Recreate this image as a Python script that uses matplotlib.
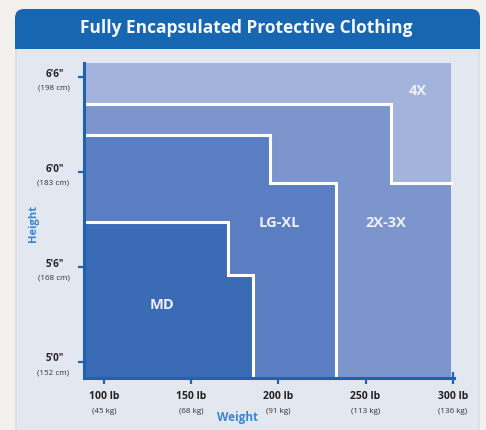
import matplotlib
matplotlib.use("Agg")
import matplotlib.pyplot as plt
from matplotlib.patches import FancyBboxPatch, Rectangle

# ---------------- data ----------------
sizes = ["MD", "LG-XL", "2X-3X", "4X"]
height_upper = [68.84, 74.32, 76.28, 78.87]   # max height (in) for lighter weights
weight_break = [171.1, 195.3, 264.4, 299.0]   # weight (lb) where height limit steps down
height_lower = [65.51, 71.29, 71.29, 78.87]   # max height (in) for heavier weights
weight_max = [185.5, 233.0, 299.0, 299.0]     # max weight (lb)

height_ticks = [60, 66, 72, 78]
height_labels = ["5'0\"", "5'6\"", "6'0\"", "6'6\""]
height_cm = ["(152 cm)", "(168 cm)", "(183 cm)", "(198 cm)"]

weight_ticks = [100, 150, 200, 250, 300]
weight_labels = ["100 lb", "150 lb", "200 lb", "250 lb", "300 lb"]
weight_kg = ["(45 kg)", "(68 kg)", "(91 kg)", "(113 kg)", "(136 kg)"]

title = "Fully Encapsulated Protective Clothing"

# ---------------- style ----------------
W, H = 486, 430
colors = ["#3b6bb4", "#5a7ec1", "#7d95cd", "#a3b3dc"]
label_xy = [(133, 63.6), (200.4, 68.8), (261.5, 68.8), (279.8, 77.16)]
axis_blue = "#1f63b0"
label_blue = "#3b86d0"
FONT = "Open Sans"

fig = plt.figure(figsize=(W / 100, H / 100), dpi=100)
fig.patch.set_facecolor("#f3f1ed")

# background panel in pixel coordinates
bg = fig.add_axes([0, 0, 1, 1], zorder=0)
bg.set_xlim(0, W)
bg.set_ylim(H, 0)
bg.axis("off")
bg.add_patch(FancyBboxPatch((16, 10), 463, 440, boxstyle="round,pad=0,rounding_size=9",
                            facecolor="#e3e7f0", edgecolor="#d6d9e0", lw=1.0))
bg.add_patch(FancyBboxPatch((15, 9), 465, 40, boxstyle="round,pad=0,rounding_size=9",
                            facecolor="#1766b2", edgecolor="none"))
bg.add_patch(Rectangle((15, 30), 465, 19, facecolor="#1766b2", edgecolor="none"))
bg.text(246, 28, title, color="#f4f7fb", fontsize=12.5, fontweight="bold",
        family=FONT, ha="center", va="center")

# main chart
xmin, xmax = 88.4, 300.5
ymin, ymax = 58.97, 78.9
left_px, right_px, top_px, bottom_px = 84, 453.5, 63, 378
ax = fig.add_axes([left_px / W, 1 - bottom_px / H, (right_px - left_px) / W,
                   (bottom_px - top_px) / H], zorder=1)
ax.set_facecolor("none")
ax.set_xlim(xmin, xmax)
ax.set_ylim(ymin, ymax)

outer_w = weight_max[-1]
for i in range(len(sizes) - 1, -1, -1):
    xs = [xmin, xmin, weight_break[i], weight_break[i], weight_max[i], weight_max[i]]
    ys = [ymin, height_upper[i], height_upper[i], height_lower[i], height_lower[i], ymin]
    ax.fill(xs, ys, color=colors[i], lw=0, zorder=2 + (3 - i))
    if sizes[i] != "4X":
        n = 5 if weight_max[i] < outer_w else 4
        ax.plot(xs[1:1 + n], ys[1:1 + n], color="white", lw=2.2, solid_joinstyle="miter",
                zorder=2 + (3 - i) + 0.5)
    lx, ly = label_xy[i]
    ax.text(lx, ly, sizes[i], color="#eef1f8", fontsize=10.5, fontweight="bold",
            family=FONT, ha="center", va="center", zorder=10)

for s in ["top", "right"]:
    ax.spines[s].set_visible(False)
for s in ["left", "bottom"]:
    ax.spines[s].set_color(axis_blue)
    ax.spines[s].set_linewidth(2.2)
    ax.spines[s].set_zorder(12)

ax.set_xticks(weight_ticks)
ax.set_xticklabels([])
ax.set_yticks(height_ticks)
ax.set_yticklabels([])
ax.tick_params(axis="both", direction="inout", length=8, width=1.6, color=axis_blue)

ytr = ax.get_yaxis_transform()
for t, lab, cm in zip(height_ticks, height_labels, height_cm):
    ax.annotate(lab, xy=(0, t), xycoords=ytr, xytext=(-21, 2), textcoords="offset points",
                ha="center", va="center", fontsize=7, fontweight="bold", family=FONT,
                color="#222222", annotation_clip=False)
    ax.annotate(cm, xy=(0, t), xycoords=ytr, xytext=(-22, -8), textcoords="offset points",
                ha="center", va="center", fontsize=5.8, family=FONT,
                color="#333333", annotation_clip=False)

xtr = ax.get_xaxis_transform()
for t, lab, kg in zip(weight_ticks, weight_labels, weight_kg):
    ax.annotate(lab, xy=(t, 0), xycoords=xtr, xytext=(0, -13), textcoords="offset points",
                ha="center", va="center", fontsize=7.5, fontweight="bold", family=FONT,
                color="#222222", annotation_clip=False)
    ax.annotate(kg, xy=(t, 0), xycoords=xtr, xytext=(0, -24), textcoords="offset points",
                ha="center", va="center", fontsize=5.8, family=FONT,
                color="#333333", annotation_clip=False)

bg.text(33, 224, "Height", color=label_blue, fontsize=8, fontweight="bold", family=FONT,
        rotation=90, ha="center", va="center")
bg.text(238, 418, "Weight", color=label_blue, fontsize=8.5, fontweight="bold", family=FONT,
        ha="center", va="center")

fig.savefig("out.png", dpi=100, facecolor=fig.get_facecolor())
